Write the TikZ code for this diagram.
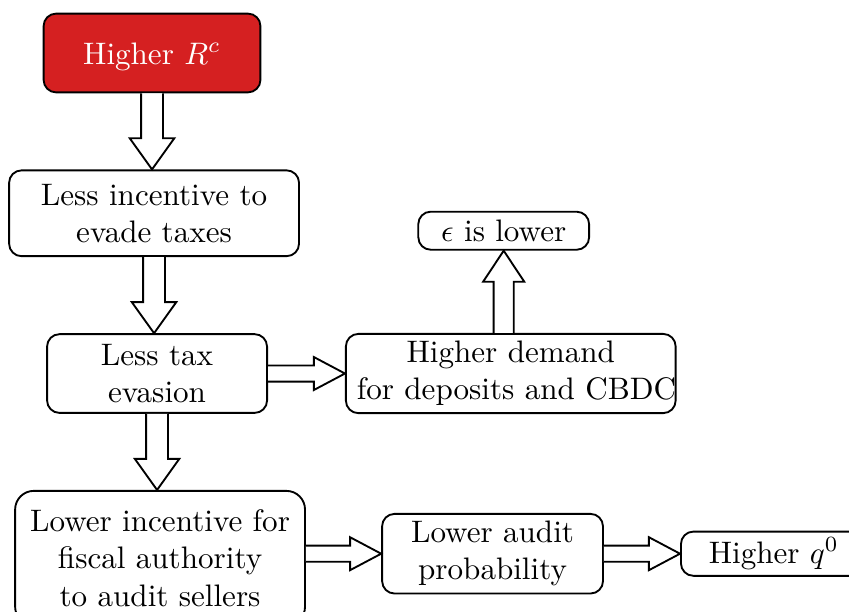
\documentclass[tikz,border=0pt]{standalone}
\usepackage{amsmath}
\usepackage{amssymb}
\usepackage{tikz}
\usetikzlibrary{positioning}
\usetikzlibrary{calc}

\definecolor{hotred}{RGB}{213,32,33}

\newcommand{\bigarrow}[3][1]{%
  \draw[hollowarrow] let \p1=#2, \p2=#3,
      \n1={atan2(\y2-\y1,\x2-\x1)}, \n2={veclen(\x2-\x1,\y2-\y1)} in
    {[shift={(\p1)}, rotate=\n1]
      (0pt,2.6pt*#1) -- (\n2-10pt,2.6pt*#1) -- (\n2-10pt,5.3pt*#1)
      -- (\n2,0pt) -- (\n2-10pt,-5.3pt*#1) -- (\n2-10pt,-2.6pt*#1) -- (0pt,-2.6pt*#1)};
}

\begin{document}
\begin{tikzpicture}[box/.style={draw, semithick, rounded corners=4pt, align=center, inner sep=3.5pt},
        hotbox/.style={box, fill=hotred, text=white},
        hollowarrow/.style={draw, semithick, fill=white, line join=miter},
        node distance=0.86cm]
            \clip (-1.718,0.599) rectangle (7.876,-6.317);
            \node[hotbox, minimum width=2.45cm, minimum height=0.89cm, text height=9pt, text depth=1.9pt] (rc) {Higher $R^c$};
            \node[box, text width=3.03cm, minimum height=0.97cm]         (evade)    [below=of rc, xshift=0.023cm]{Less incentive to\\evade taxes};
            \node[box, text width=2.24cm, minimum height=0.89cm, inner ysep=2.8pt] (evasion)  [below=of evade, xshift=0.034cm]{Less tax\\evasion};
            \node[box, text width=3.03cm, minimum height=1.52cm, rounded corners=6pt] (fiscal) [below=of evasion, xshift=0.034cm]{Lower incentive for\\fiscal authority\\to audit sellers};
            \node[box, text width=3.48cm, inner ysep=2.3pt]              (demand)   [right=0.87cm of evasion]{Higher demand\\\mbox{for deposits and CBDC}};
            \node[box, minimum width=1.93cm, minimum height=0.43cm, inner ysep=2.3pt] (eps) [above=0.93cm of demand, xshift=-0.08cm]{$\epsilon$ is lower};
            \node[box, text width=2.25cm, minimum height=0.9cm, inner ysep=2.3pt]   (audit)    [right=0.85cm of fiscal, yshift=0.05cm]{Lower audit\\probability};
            \node[box, minimum width=2.1cm, minimum height=0.5cm, inner ysep=2pt]   (qnull)    [right=of audit]{Higher $q^0$};

            \bigarrow[1.35]{(rc.south)}{(rc.south |- evade.north)}
            \bigarrow[1.35]{(evade.south)}{(evade.south |- evasion.north)}
            \bigarrow[1.35]{(evasion.south)}{(evasion.south |- fiscal.north)}
            \bigarrow{(evasion.east)}{(evasion.east -| demand.west)}
            \bigarrow[1.25]{(eps.south |- demand.north)}{(eps.south)}
            \bigarrow{(fiscal.east |- audit.west)}{(audit.west)}
            \bigarrow{(audit.east)}{(qnull.west)}
        \end{tikzpicture}
\end{document}
